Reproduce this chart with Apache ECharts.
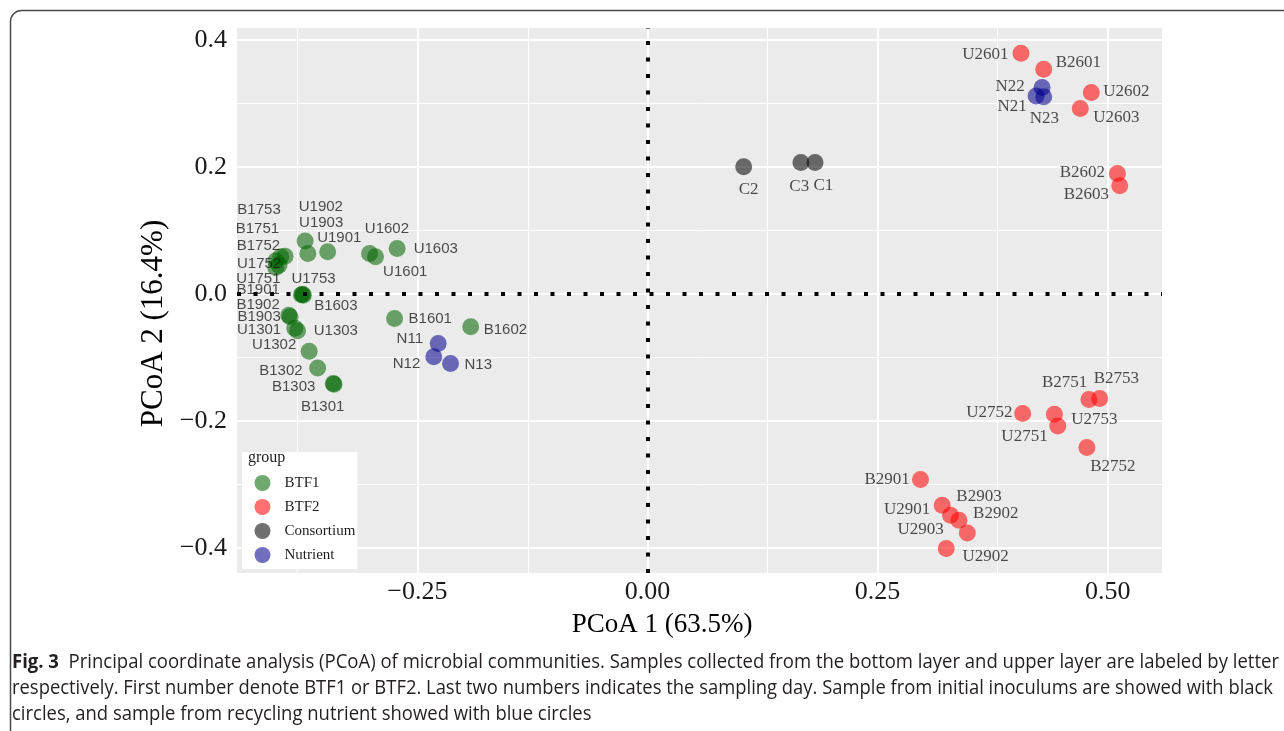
<!DOCTYPE html>
<html>
<head>
<meta charset="utf-8">
<script src="https://cdn.jsdelivr.net/npm/echarts@6/dist/echarts.min.js"></script>
<style>
  html, body { margin: 0; padding: 0; background: #ffffff; }
  #chart { width: 1284px; height: 731px; }
</style>
</head>
<body>
<div id="chart"></div>
<script>
// ---- PCoA sample scores ----
const groupNames = ['BTF1', 'BTF2', 'Consortium', 'Nutrient'];

const btf1Samples = ['U1902', 'U1903', 'U1901', 'U1602', 'U1601', 'U1603',
  'B1753', 'B1751', 'B1752', 'U1752', 'U1751', 'U1753', 'B1901', 'B1603',
  'B1902', 'B1903', 'U1301', 'U1303', 'U1302', 'B1302', 'B1303', 'B1301',
  'B1601', 'B1602'];
const btf1PC1 = [-0.372, -0.369, -0.3475, -0.302, -0.2955, -0.272,
  -0.3938, -0.3985, -0.4039, -0.4003, -0.4039, -0.3748, -0.3761, -0.3739,
  -0.3897, -0.3883, -0.3832, -0.3802, -0.3676, -0.3584, -0.3414, -0.3406,
  -0.2748, -0.1921];
const btf1PC2 = [0.0835, 0.064, 0.0667, 0.064, 0.0588, 0.072,
  0.0598, 0.0587, 0.0524, 0.0457, 0.042, 0.000, -0.0008, -0.0016,
  -0.0331, -0.0357, -0.0535, -0.0575, -0.0898, -0.1161, -0.1406, -0.1417,
  -0.0383, -0.0515];

const btf2Samples = ['U2601', 'B2601', 'U2602', 'U2603', 'B2602', 'B2603',
  'B2751', 'B2753', 'U2752', 'U2753', 'U2751', 'B2752',
  'B2901', 'U2901', 'U2903', 'B2903', 'B2902', 'U2902'];
const btf2PC1 = [0.4058, 0.4305, 0.4822, 0.4702, 0.5106, 0.5131,
  0.4796, 0.4913, 0.4076, 0.4421, 0.4458, 0.4774,
  0.2966, 0.3202, 0.3293, 0.3384, 0.3475, 0.3246];
const btf2PC2 = [0.3791, 0.3539, 0.3176, 0.2924, 0.1901, 0.1706,
  -0.1659, -0.1643, -0.1879, -0.189, -0.2074, -0.2415,
  -0.2919, -0.3323, -0.348, -0.3559, -0.3759, -0.4005];

const consortiumSamples = ['C2', 'C3', 'C1'];
const consortiumPC1 = [0.1045, 0.1667, 0.182];
const consortiumPC2 = [0.2005, 0.2074, 0.2074];

const nutrientSamples = ['N11', 'N12', 'N13', 'N22', 'N21', 'N23'];
const nutrientPC1 = [-0.2274, -0.2322, -0.214, 0.4287, 0.4222, 0.4305];
const nutrientPC2 = [-0.0776, -0.0987, -0.1091, 0.3255, 0.3118, 0.3107];

// ---- axes ----
const xRange = [-0.446, 0.559];
const yRange = [-0.439, 0.419];
const xTicks = [-0.25, 0, 0.25, 0.5];
const yTicks = [-0.4, -0.2, 0, 0.2, 0.4];
const xMinorBreaks = [-0.375, -0.125, 0.125, 0.375];
const yMinorBreaks = [-0.3, -0.1, 0.1, 0.3];
const xTitle = 'PCoA 1 (63.5%)';
const yTitle = 'PCoA 2 (16.4%)';

// ---- caption ----
const captionLead = 'Fig. 3';
const captionLines = [
  '  Principal coordinate analysis (PCoA) of microbial communities. Samples collected from the bottom layer and upper layer are labeled by letter',
  'respectively. First number denote BTF1 or BTF2. Last two numbers indicates the sampling day. Sample from initial inoculums are showed with black',
  'circles, and sample from recycling nutrient showed with blue circles'
];

// ---- styling ----
const SERIF = '"Liberation Serif", "Times New Roman", serif';
const SANS = '"Liberation Sans", Arial, sans-serif';
const CAPTION_FONT = '"Open Sans", "Noto Sans", sans-serif';
const groupColors = {
  BTF1: 'rgba(0,100,0,0.7)',
  BTF2: 'rgba(255,0,0,0.7)',
  Consortium: 'rgba(0,0,0,0.7)',
  Nutrient: 'rgba(0,0,139,0.7)'
};

// repelled text placement: label centre relative to the point, in px
const labelNudge = {
  U1902: [15.7, -34.3], U1903: [13.3, -31], U1901: [11.6, -14.4],
  U1602: [17.4, -25], U1601: [29.7, 15], U1603: [38.6, 0],
  B1753: [-26, -46], B1751: [-23.3, -28.4], B1752: [-17.3, -14.7],
  U1752: [-20, -1.7], U1751: [-17.3, 11], U1753: [11, -15.7],
  B1901: [-43.2, -4.5], B1603: [32.5, 10.7], B1902: [-30.7, -10.7],
  B1903: [-31, 0], U1301: [-35.7, 2], U1303: [38.3, 0.2],
  U1302: [-35, -6], B1302: [-36.7, 3.3], B1303: [-39.6, 3.4],
  B1301: [-11.3, 22.7], B1601: [35.7, 0], B1602: [34.7, 2.6],
  N11: [-28.4, -5], N12: [-27.3, 6.6], N13: [27.7, 1.7],
  U2601: [-35.7, 0.7], B2601: [34.7, -7], N22: [-32, -0.6],
  N21: [-24, 10], N23: [0.7, 21.6], U2602: [35, -0.6], U2603: [36, 9.4],
  B2602: [-35, -0.6], B2603: [-33.3, 8.6],
  C2: [5, 22.6], C3: [-1.7, 23.7], C1: [8.3, 22.7],
  B2751: [-24.3, -16.6], B2753: [16.7, -20], U2752: [-33.3, -0.6],
  U2753: [40, 5.3], U2751: [-33.3, 10.3], B2752: [26, 18.7],
  B2901: [-33.4, 0], U2901: [-35, 4.3], U2903: [-30, 14.3],
  B2903: [20, -23.3], B2902: [28.4, -19.4], U2902: [39.4, 8.4]
};

function buildPoints(names, pc1, pc2) {
  return names.map((n, i) => {
    const serif = pc1[i] > 0;
    return {
      name: n,
      value: [pc1[i], pc2[i]],
      label: {
        fontFamily: serif ? SERIF : SANS,
        fontSize: serif ? 17 : 15
      }
    };
  });
}

const groupData = {
  BTF1: buildPoints(btf1Samples, btf1PC1, btf1PC2),
  BTF2: buildPoints(btf2Samples, btf2PC1, btf2PC2),
  Consortium: buildPoints(consortiumSamples, consortiumPC1, consortiumPC2),
  Nutrient: buildPoints(nutrientSamples, nutrientPC1, nutrientPC2)
};

const minusFmt = (v, d) => (v < -1e-9 ? '\u2212' : '') + Math.abs(v).toFixed(d);

const pointSeries = groupNames.map(g => ({
  name: g,
  type: 'scatter',
  z: 3,
  symbol: 'circle',
  symbolSize: 17,
  itemStyle: { color: groupColors[g] },
  label: {
    show: true,
    position: 'inside',
    formatter: '{b}',
    color: '#1e1e1e',
    align: 'center',
    verticalAlign: 'middle'
  },
  emphasis: { disabled: true },
  labelLayout: p => {
    const d = labelNudge[p.text] || [0, 0];
    return { dx: d[0], dy: d[1], hideOverlap: false };
  },
  data: groupData[g]
}));

// panel grid (major and minor breaks)
const gridLines = [];
xTicks.forEach(v => gridLines.push({ xAxis: v, lineStyle: { color: '#ffffff', width: 2, type: 'solid' } }));
yTicks.forEach(v => gridLines.push({ yAxis: v, lineStyle: { color: '#ffffff', width: 2, type: 'solid' } }));
xMinorBreaks.forEach(v => gridLines.push({ xAxis: v, lineStyle: { color: '#ffffff', width: 1, type: 'solid' } }));
yMinorBreaks.forEach(v => gridLines.push({ yAxis: v, lineStyle: { color: '#ffffff', width: 1, type: 'solid' } }));

const gridSeries = {
  name: 'panel-grid',
  type: 'scatter',
  z: 1,
  data: [],
  silent: true,
  markLine: {
    z: 1,
    silent: true,
    symbol: 'none',
    animation: false,
    label: { show: false },
    emphasis: { disabled: true },
    data: gridLines
  }
};

// dotted zero lines
const zeroSeries = {
  name: 'zero-lines',
  type: 'scatter',
  z: 5,
  data: [],
  silent: true,
  markLine: {
    z: 5,
    silent: true,
    symbol: 'none',
    animation: false,
    label: { show: false },
    emphasis: { disabled: true },
    lineStyle: { color: '#000000', width: 4, type: [4, 12.5], cap: 'butt' },
    data: [{ xAxis: 0 }, { yAxis: 0 }]
  }
};

// caption layout: scale each line horizontally to the text block width
const measureCtx = document.createElement('canvas').getContext('2d');
function measure(str, weight, size) {
  measureCtx.font = weight + ' ' + size + 'px ' + CAPTION_FONT;
  return measureCtx.measureText(str).width;
}
const CAP_SIZE = 20;
const line1W = measure(captionLead, 'bold', CAP_SIZE) + measure(captionLines[0], 'normal', CAP_SIZE);
const line2W = measure(captionLines[1], 'normal', CAP_SIZE);
const s1 = 1267 / line1W;
const s2 = 1261 / line2W;
const s3 = (s1 + s2) / 2;

const captionStyle = {
  fill: '#231f20',
  fontFamily: CAPTION_FONT,
  fontSize: CAP_SIZE,
  verticalAlign: 'middle',
  align: 'left'
};

const chart = echarts.init(document.getElementById('chart'), null, { renderer: 'canvas' });
chart.setOption({
  animation: false,
  backgroundColor: '#ffffff',
  grid: {
    left: 237, right: 122, top: 28, bottom: 158,
    show: true, backgroundColor: '#EBEBEB', borderWidth: 0
  },
  xAxis: {
    type: 'value',
    min: xRange[0], max: xRange[1],
    name: xTitle,
    nameLocation: 'middle',
    nameGap: 38,
    nameTextStyle: { fontFamily: SERIF, fontSize: 27, color: '#000', padding: [0, 75, 0, 0] },
    axisLine: { show: false },
    splitLine: { show: false },
    axisTick: { show: true, length: 4, customValues: xTicks, lineStyle: { color: '#333', width: 1 } },
    axisLabel: {
      customValues: xTicks, margin: 6,
      fontFamily: SERIF, fontSize: 26, color: '#1a1a1a',
      formatter: v => minusFmt(v, 2)
    }
  },
  yAxis: {
    type: 'value',
    min: yRange[0], max: yRange[1],
    name: yTitle,
    nameLocation: 'middle',
    nameGap: 64,
    nameTextStyle: { fontFamily: SERIF, fontSize: 31, color: '#000', padding: [0, 46, 0, 0] },
    axisLine: { show: false },
    splitLine: { show: false },
    axisTick: { show: true, length: 4, customValues: yTicks, lineStyle: { color: '#333', width: 1 } },
    axisLabel: {
      customValues: yTicks, margin: 10,
      fontFamily: SERIF, fontSize: 26, color: '#1a1a1a',
      formatter: v => minusFmt(v, 1)
    }
  },
  legend: {
    data: groupNames,
    orient: 'vertical',
    left: 242, top: 452,
    padding: [23, 2, 6, 12.5],
    backgroundColor: '#ffffff',
    icon: 'circle',
    itemWidth: 34, itemHeight: 16, itemGap: 8,
    selectedMode: false,
    z: 6,
    textStyle: { fontFamily: SERIF, fontSize: 15, color: '#1e1e1e' }
  },
  graphic: [
    {
      type: 'text', z: 100, x: 248, y: 458,
      style: { text: 'group', fill: '#1e1e1e', fontFamily: SERIF, fontSize: 16, verticalAlign: 'middle' }
    },
    {
      type: 'rect', z: 100, silent: true,
      shape: { x: 10.5, y: 10.5, width: 1320, height: 780, r: 11 },
      style: { fill: 'none', stroke: '#4a4a4a', lineWidth: 1.5 }
    },
    {
      type: 'text', z: 100, x: 12, y: 662, scaleX: s1,
      style: Object.assign({}, captionStyle, {
        text: '{b|' + captionLead + '}' + captionLines[0],
        rich: { b: { fontWeight: 'bold', fontFamily: CAPTION_FONT, fontSize: CAP_SIZE, fill: '#231f20' } }
      })
    },
    {
      type: 'text', z: 100, x: 12, y: 688, scaleX: s2,
      style: Object.assign({}, captionStyle, { text: captionLines[1] })
    },
    {
      type: 'text', z: 100, x: 12, y: 714, scaleX: s3,
      style: Object.assign({}, captionStyle, { text: captionLines[2] })
    }
  ],
  series: [gridSeries].concat(pointSeries, [zeroSeries])
});
</script>
</body>
</html>
